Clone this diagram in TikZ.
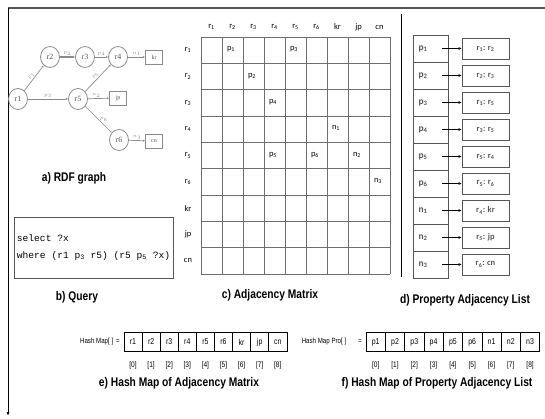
\documentclass[tikz,border=0pt]{standalone}
\usepackage{fontspec}
\setmainfont{Liberation Sans}
\newfontfamily\calfont{Carlito}
\newfontfamily\qryfont{Liberation Mono}
\newfontfamily\serfont{Liberation Serif}
\newfontfamily\narrowfont{Liberation Sans}[FakeStretch=0.82]
\usetikzlibrary{arrows.meta,positioning,shapes.geometric}
\definecolor{lineGray}{HTML}{555555}
\definecolor{gridGray}{HTML}{6E6E6E}
\definecolor{softGray}{HTML}{8A8A8A}

\begin{document}
\begin{tikzpicture}[x=1pt, y=-1pt,
  vtx/.style={draw=softGray, line width=0.8pt, ellipse, inner sep=0pt, minimum width=19pt, minimum height=21pt, font=\serfont\fontsize{8}{8}\selectfont, text=lineGray},
  lit/.style={draw=softGray, line width=0.8pt, minimum width=17pt, minimum height=14pt, inner sep=0pt, font=\serfont\fontsize{6}{6}\selectfont, text=lineGray},
  arr/.style={-{Latex[length=2pt, width=2pt]}, draw=softGray, line width=0.7pt},
  lab/.style={font=\serfont\fontsize{4.5}{4.5}\selectfont, text=softGray, inner sep=1pt},
  capt/.style={font=\narrowfont\bfseries\fontsize{12.5}{14}\selectfont},
  gridln/.style={draw=gridGray, line width=0.5pt},
  hdr/.style={font=\calfont\fontsize{8.5}{9}\selectfont, inner sep=0pt},
  cell/.style={draw=lineGray, line width=0.7pt, minimum width=35pt, minimum height=27pt, inner sep=0pt},
  ebox/.style={draw=lineGray, line width=0.7pt, minimum width=47pt, minimum height=21pt, inner sep=0pt, font=\calfont\bfseries\fontsize{8.5}{9}\selectfont, text=lineGray},
  larr/.style={-{Latex[length=3pt, width=3pt]}, line width=0.6pt},
  hcell/.style={draw, line width=0.7pt, minimum height=19pt, inner sep=0pt, font=\narrowfont\fontsize{8.5}{9}\selectfont},
  idx/.style={font=\narrowfont\fontsize{8}{8}\selectfont, inner sep=0pt}
]
\useasboundingbox (0,0) rectangle (545,418);

% outer frame
\coordinate (ftr) at (545,8);
\coordinate (ftl) at (8,8);
\coordinate (fbl) at (8,416);
\draw[line width=1.1pt, draw=lineGray] (ftr) -- (ftl);
\draw[-{Latex[length=4pt, width=3pt]}, line width=1pt] (ftl) -- (fbl);
\coordinate (st) at (401,14);
\coordinate (sb) at (401,277);
\draw[line width=1pt] (st) -- (sb);

% a) RDF graph
\node[vtx] (r1) at (18,99) {r1};
\node[vtx] (r2) at (50,57) {r2};
\node[vtx] (r3) at (85,57) {r3};
\node[vtx] (r4) at (118,57) {r4};
\node[vtx] (r5) at (78,99) {r5};
\node[vtx] (r6) at (119,140) {r6};
\node[lit] (kr) at (154,57) {kr};
\node[lit] (jp) at (118,98) {jp};
\node[lit] (cn) at (154,141) {cn};
\draw[arr] (r1) -- node[lab, sloped, above]{$p_1$} (r2);
\draw[arr, line width=1.6pt] (r2) -- node[lab, above]{$p_2$} (r3);
\draw[arr] (r3) -- node[lab, above]{$p_4$} (r4);
\draw[arr] (r1) -- node[lab, above]{$p_3$} (r5);
\draw[arr] (r5) -- node[lab, sloped, above]{$p_5$} (r4);
\draw[arr] (r5) -- node[lab, above, pos=0.4]{$n_2$} (jp);
\draw[arr] (r5) -- node[lab, right, pos=0.5]{$p_6$} (r6);
\draw[arr] (r4) -- node[lab, above]{$n_1$} (kr);
\draw[arr] (r6) -- node[lab, above]{$n_3$} (cn);
\node[capt] (capa) at (74,178) {a) RDF graph};

% b) Query
\node[draw=lineGray, line width=0.9pt, minimum width=159pt, minimum height=61pt, align=left, inner sep=3pt, font=\qryfont\fontsize{9.6}{17}\selectfont] (qry) at (93.5,247.5)
  {select ?x\\where (r1 p\textsubscript{3} r5) (r5 p\textsubscript{5} ?x)};
\node[capt] (capb) at (77,297) {b) Query};

% c) Adjacency Matrix
\foreach \i in {0,...,9}
  \draw[gridln] (201,{37+26.33*\i}) -- (390,{37+26.33*\i});
\foreach \j in {0,...,9}
  \draw[gridln] ({201+21*\j},37) -- ({201+21*\j},274);
\foreach \c [count=\j] in {r\textsubscript{1},r\textsubscript{2},r\textsubscript{3},r\textsubscript{4},r\textsubscript{5},r\textsubscript{6},kr,jp,cn}
  \node[hdr] (ch\j) at ({201+21*\j-10.5},27) {\c};
\foreach \c [count=\i] in {r\textsubscript{1},r\textsubscript{2},r\textsubscript{3},r\textsubscript{4},r\textsubscript{5},r\textsubscript{6},kr,jp,cn}
  \node[hdr] (rh\i) at (188,{37+26.33*\i-13.2}) {\c};
\foreach \i/\j/\v in {1/2/p\textsubscript{1}, 1/5/p\textsubscript{3}, 2/3/p\textsubscript{2}, 3/4/p\textsubscript{4}, 4/7/n\textsubscript{1}, 5/4/p\textsubscript{5}, 5/6/p\textsubscript{6}, 5/8/n\textsubscript{2}, 6/9/n\textsubscript{3}}
  \node[hdr] (m\i\j) at ({201+21*\j-12},{37+26.33*\i-14}) {\v};
\node[capt] (capc) at (270,295) {c) Adjacency Matrix};

% d) Property Adjacency List
\foreach \p/\e [count=\k] in {p\textsubscript{1}/r\textsubscript{1}: r\textsubscript{2}, p\textsubscript{2}/r\textsubscript{2}: r\textsubscript{3}, p\textsubscript{3}/r\textsubscript{1}: r\textsubscript{5}, p\textsubscript{4}/r\textsubscript{3}: r\textsubscript{5}, p\textsubscript{5}/r\textsubscript{5}: r\textsubscript{4}, p\textsubscript{6}/r\textsubscript{5}: r\textsubscript{6}, n\textsubscript{1}/r\textsubscript{4}: kr, n\textsubscript{2}/r\textsubscript{5}: jp, n\textsubscript{3}/r\textsubscript{6}: cn} {
  \node[cell] (pc\k) at (430.5,{35+27*\k-13.5}) {};
  \node[font=\calfont\bfseries\fontsize{9.5}{9.5}\selectfont, text=lineGray, inner sep=0pt] (pl\k) at (423,{35+27*\k-13.5}) {\p};
  \node[ebox] (pe\k) at (485.5,{35+27*\k-13.5}) {\e};
  \coordinate (pa\k) at (442,{35+27*\k-13.5});
  \draw[larr] (pa\k) -- (pe\k.west);
}
\node[capt] (capd) at (465,300) {d) Property Adjacency List};

% e) Hash Map of Adjacency Matrix
\node[font=\narrowfont\fontsize{7.5}{8}\selectfont, anchor=east, inner sep=0pt] (hml) at (120,342) {Hash Map[ ] \,=};
\foreach \v [count=\k from 0] in {r1,r2,r3,r4,r5,r6,kr,jp,cn} {
  \node[hcell, minimum width=18.1pt] (hm\k) at ({133+18.1*\k},342) {\v};
  \node[idx] (hmi\k) at ({133+18.1*\k},365) {[\k]};
}
\node[capt] (cape) at (179,383) {e) Hash Map of Adjacency Matrix};

% f) Hash Map of Property Adjacency List
\node[font=\narrowfont\fontsize{7.5}{8}\selectfont, inner sep=0pt] (hpl) at (324,342) {Hash Map Pro[ ]};
\node[font=\narrowfont\fontsize{7.5}{8}\selectfont, inner sep=0pt] (hpe) at (360,342) {=};
\foreach \v [count=\k from 0] in {p1,p2,p3,p4,p5,p6,n1,n2,n3} {
  \node[hcell, minimum width=19.3pt] (hp\k) at ({375.7+19.3*\k},342) {\v};
  \node[idx] (hpi\k) at ({375.7+19.3*\k},365) {[\k]};
}
\node[capt] (capf) at (437,383) {f) Hash Map of Property Adjacency List};
\end{tikzpicture}
\end{document}
